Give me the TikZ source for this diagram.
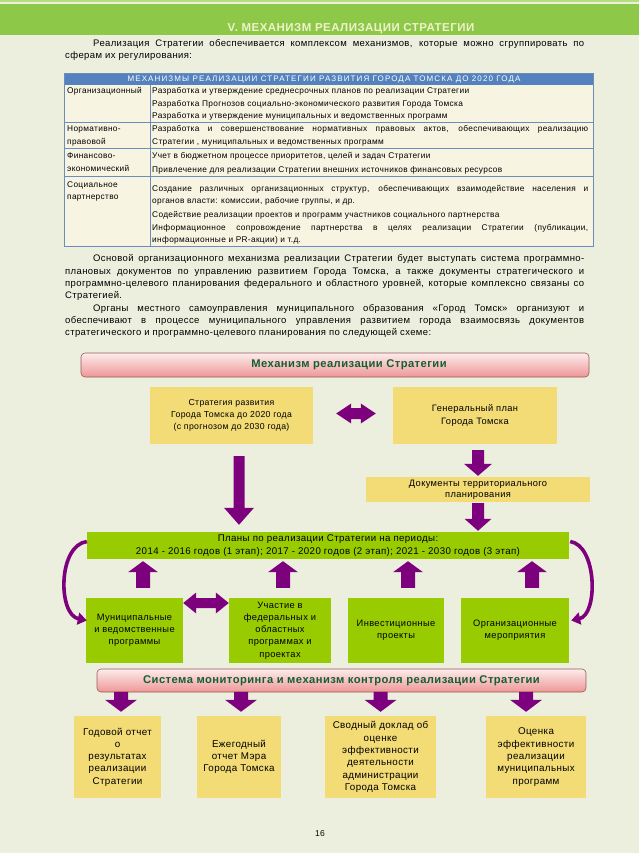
\documentclass[tikz,border=0pt]{standalone}
\usepackage{fontspec}
\setmainfont{Liberation Sans}[LetterSpace=4]
\usetikzlibrary{calc,arrows.meta}
\definecolor{pagebg}{RGB}{237,239,222}
\definecolor{bandgreen}{RGB}{142,200,72}
\definecolor{bandlight}{RGB}{178,222,125}
\definecolor{headtxt}{RGB}{238,242,205}
\definecolor{tblhead}{RGB}{84,130,190}
\definecolor{tblbody}{RGB}{247,244,225}
\definecolor{tblline}{RGB}{110,140,185}
\definecolor{boxyellow}{RGB}{243,219,118}
\definecolor{boxgreen}{RGB}{153,204,0}
\definecolor{arrowpurple}{RGB}{125,0,125}
\definecolor{pinkTop}{RGB}{253,236,236}
\definecolor{pinkMid}{RGB}{249,212,212}
\definecolor{pinkBot}{RGB}{238,150,150}
\definecolor{pinkborder}{RGB}{150,90,90}
\definecolor{titlegreen}{RGB}{20,95,50}
% block arrow: from, to, shaft half width, head half width, head length
\newcommand\blockarrow[5]{%
  \coordinate (bah) at ($(#2)!#5!(#1)$);
  \fill[arrowpurple] ($(#1)!#3!90:(#2)$) -- ($(bah)!#3!-90:(#1)$) -- ($(bah)!#4!-90:(#1)$) -- (#2)
    -- ($(bah)!#4!90:(#1)$) -- ($(bah)!#3!90:(#1)$) -- ($(#1)!#3!-90:(#2)$) -- cycle;}
% double block arrow
\newcommand\dblarrow[5]{%
  \coordinate (dha) at ($(#1)!#5!(#2)$);
  \coordinate (dhb) at ($(#2)!#5!(#1)$);
  \fill[arrowpurple] (#1) -- ($(dha)!#4!90:(#2)$) -- ($(dha)!#3!90:(#2)$) -- ($(dhb)!#3!-90:(#1)$)
    -- ($(dhb)!#4!-90:(#1)$) -- (#2) -- ($(dhb)!#4!90:(#1)$) -- ($(dhb)!#3!90:(#1)$)
    -- ($(dha)!#3!-90:(#2)$) -- ($(dha)!#4!-90:(#2)$) -- cycle;}
\begin{document}
\begin{tikzpicture}[x=1pt,y=-1pt,
  ptext/.style={anchor=base west,inner sep=0pt,font=\fontsize{9.5}{12}\selectfont},
  ttext/.style={anchor=base west,inner sep=0pt,font=\fontsize{8.3}{9}\selectfont},
  ybox/.style={fill=boxyellow,align=center,inner sep=1pt,font=\fontsize{9.3}{12.2}\selectfont},
  gbox/.style={fill=boxgreen,align=center,inner sep=1pt,font=\fontsize{9.3}{12.2}\selectfont},
  pinkbar/.style={draw=pinkborder,line width=0.6pt,rounded corners=4pt,top color=pinkTop,
    middle color=pinkMid,bottom color=pinkBot,text=titlegreen,
    font=\bfseries\fontsize{11.2}{13}\selectfont},
  curvearrow/.style={draw=arrowpurple,line width=3.6pt,-{Triangle[length=9pt,width=12pt]}}]
\useasboundingbox (0,0) rectangle (639,853);
\fill[pagebg] (0,0) rectangle (639,853);
\fill[bandgreen] (0,4) rectangle (639,35.5);
\fill[bandlight] (0,0) rectangle (639,2.5);
\node[anchor=base,inner sep=0pt,text=headtxt,font=\bfseries\fontsize{11.5}{13}\selectfont] (title) at (351,32) {\underline{V. МЕХАНИЗМ РЕАЛИЗАЦИИ СТРАТЕГИИ}};

% intro paragraph
\node[ptext] (p1a) at (93,46.5) {\hbox to 491pt{Реализация Стратегии обеспечивается комплексом механизмов, которые можно сгруппировать по}};
\node[ptext] (p1b) at (65,58.5) {сферам их регулирования:};

% table
\fill[tblbody] (64,85) rectangle (593,246);
\fill[tblhead] (64,73) rectangle (593,85);
\draw[tblline,line width=0.6pt] (64,122) -- (593,122) (64,148) -- (593,148) (64,176) -- (593,176) (150,85) -- (150,246);
\draw[tblline,line width=0.8pt] (64,73) rectangle (593,246);
\node[inner sep=0pt,text=white,font=\fontsize{8}{9}\selectfont\addfontfeature{LetterSpace=14}] (thead) at (324,79.5) {МЕХАНИЗМЫ РЕАЛИЗАЦИИ СТРАТЕГИИ РАЗВИТИЯ ГОРОДА ТОМСКА ДО 2020 ГОДА};
\node[ttext] (r1l) at (67,94) {Организационный};
\node[ttext] (r1a) at (152,94) {Разработка и утверждение среднесрочных планов по реализации Стратегии};
\node[ttext] (r1b) at (152,107) {Разработка Прогнозов социально-экономического развития Города Томска};
\node[ttext] (r1c) at (152,119) {Разработка и утверждение муниципальных и ведомственных программ};
\node[ttext] (r2l) at (67,132) {Нормативно-};
\node[ttext] (r2m) at (67,145) {правовой};
\node[ttext] (r2a) at (152,132) {\hbox to 436pt{Разработка и совершенствование нормативных правовых актов, обеспечивающих реализацию}};
\node[ttext] (r2b) at (152,145) {Стратегии , муниципальных и ведомственных программ};
\node[ttext] (r3l) at (67,158.5) {Финансово-};
\node[ttext] (r3m) at (67,171.5) {экономический};
\node[ttext] (r3a) at (152,159) {Учет в бюджетном процессе приоритетов, целей и задач Стратегии};
\node[ttext] (r3b) at (152,173) {Привлечение для реализации Стратегии внешних источников финансовых ресурсов};
\node[ttext] (r4l) at (67,187) {Социальное};
\node[ttext] (r4m) at (67,200) {партнерство};
\node[ttext] (r4a) at (152,191) {\hbox to 436pt{Создание различных организационных структур, обеспечивающих взаимодействие населения и}};
\node[ttext] (r4b) at (152,204) {органов власти: комиссии, рабочие группы, и др.};
\node[ttext] (r4c) at (152,217) {Содействие реализации проектов и программ участников социального партнерства};
\node[ttext] (r4d) at (152,230) {\hbox to 436pt{Информационное сопровождение партнерства в целях реализации Стратегии (публикации,}};
\node[ttext] (r4e) at (152,242.5) {информационные и PR-акции) и т.д.};

% second paragraph
\node[ptext] (p2a) at (93,261.5) {\hbox to 491pt{Основой организационного механизма реализации Стратегии будет выступать система программно-}};
\node[ptext] (p2b) at (65,274) {\hbox to 519pt{плановых документов по управлению развитием Города Томска, а также документы стратегического и}};
\node[ptext] (p2c) at (65,286.5) {\hbox to 519pt{программно-целевого планирования федерального и областного уровней, которые комплексно связаны со}};
\node[ptext] (p2d) at (65,298.5) {Стратегией.};
\node[ptext] (p2e) at (93,311) {\hbox to 491pt{Органы местного самоуправления муниципального образования «Город Томск» организуют и}};
\node[ptext] (p2f) at (65,323.5) {\hbox to 519pt{обеспечивают в процессе муниципального управления развитием города взаимосвязь документов}};
\node[ptext] (p2g) at (65,335.5) {стратегического и программно-целевого планирования по следующей схеме:};

% diagram
\node[pinkbar,minimum width=508,minimum height=24] (bar1) at (335,365) {\hspace*{28pt}Механизм реализации Стратегии};
\node[ybox,minimum width=163,minimum height=57,font=\fontsize{8.7}{12.2}\selectfont] (strat) at (231.5,415.5) {Стратегия развития\\Города Томска до 2020 года\\(с прогнозом до 2030 года)};
\node[ybox,minimum width=164,minimum height=57] (gen) at (475,415.5) {Генеральный план\\Города Томска};
\node[ybox,minimum width=224,minimum height=25,font=\fontsize{9.3}{11}\selectfont] (docs) at (478,489.5) {Документы территориального\\планирования};
\node[gbox,minimum width=482,minimum height=27,font=\fontsize{9.7}{12.5}\selectfont] (plans) at (328,545.5) {Планы по реализации Стратегии на периоды:\\2014 - 2016 годов (1 этап); 2017 - 2020 годов (2 этап); 2021 - 2030 годов (3 этап)};
\node[gbox,minimum width=97,minimum height=65] (muni) at (134.5,630.5) {Муниципальные\\и ведомственные\\программы};
\node[gbox,minimum width=102,minimum height=65] (part) at (280,630.5) {Участие в\\федеральных и\\областных\\программах и\\проектах};
\node[gbox,minimum width=96,minimum height=65] (inv) at (396,630.5) {Инвестиционные\\проекты};
\node[gbox,minimum width=108,minimum height=65] (org) at (515,630.5) {Организационные\\мероприятия};
\node[pinkbar,minimum width=489,minimum height=23] (bar2) at (341.5,680.5) {Система мониторинга и механизм контроля реализации Стратегии};
\node[ybox,minimum width=87,minimum height=82,font=\fontsize{9.8}{12.3}\selectfont] (rep1) at (117.5,757) {Годовой отчет\\о\\результатах\\реализации\\Стратегии};
\node[ybox,minimum width=84,minimum height=82,font=\fontsize{9.8}{12.3}\selectfont] (rep2) at (239,757) {Ежегодный\\отчет Мэра\\Города Томска};
\node[ybox,minimum width=111,minimum height=82,font=\fontsize{9.8}{12.3}\selectfont] (rep3) at (380.5,757) {Сводный доклад об\\оценке\\эффективности\\деятельности\\администрации\\Города Томска};
\node[ybox,minimum width=100,minimum height=82,font=\fontsize{9.8}{12.3}\selectfont] (rep4) at (536,757) {Оценка\\эффективности\\реализации\\муниципальных\\программ};
\node[inner sep=0pt,font=\fontsize{8.5}{10}\selectfont] (pnum) at (320,834) {16};

% connectors (block arrows)
\coordinate (d1a) at ($(strat.east)+(23,-2)$);
\coordinate (d1b) at ($(gen.west)+(-17,-2)$);
\dblarrow{d1a}{d1b}{5.5pt}{10pt}{15pt}
\coordinate (g1a) at ($(gen.south)+(3,6)$);
\coordinate (g1b) at ($(docs.north)+(0,-1)$);
\blockarrow{g1a}{g1b}{6pt}{14pt}{12pt}
\coordinate (la) at ($(strat.south)+(7.5,12)$);
\coordinate (lb) at ($(la |- plans.north)+(0,-7)$);
\blockarrow{la}{lb}{5.5pt}{15pt}{17pt}
\coordinate (g2a) at ($(docs.south)+(0,1)$);
\coordinate (g2b) at ($(docs.south |- plans.north)+(0,-1)$);
\blockarrow{g2a}{g2b}{6pt}{13.5pt}{12pt}
\coordinate (u1a) at ($(muni.north)+(8.5,-10)$);
\coordinate (u1b) at ($(u1a |- plans.south)+(0,2)$);
\blockarrow{u1a}{u1b}{7pt}{15pt}{11pt}
\coordinate (u2a) at ($(part.north)+(3,-10)$);
\coordinate (u2b) at ($(u2a |- plans.south)+(0,2)$);
\blockarrow{u2a}{u2b}{7pt}{15pt}{11pt}
\coordinate (u3a) at ($(inv.north)+(12,-10)$);
\coordinate (u3b) at ($(u3a |- plans.south)+(0,2)$);
\blockarrow{u3a}{u3b}{7pt}{15pt}{11pt}
\coordinate (u4a) at ($(org.north)+(17,-10)$);
\coordinate (u4b) at ($(u4a |- plans.south)+(0,2)$);
\blockarrow{u4a}{u4b}{7pt}{15pt}{11pt}
\coordinate (d2a) at ($(muni.east)+(0,-27.5)$);
\coordinate (d2b) at ($(part.west)+(0,-27.5)$);
\dblarrow{d2a}{d2b}{5pt}{10.5pt}{13pt}
\coordinate (m1a) at ($(rep1.north)+(3.5,-24)$);
\coordinate (m1b) at ($(rep1.north)+(3.5,-4)$);
\blockarrow{m1a}{m1b}{7pt}{16pt}{12pt}
\coordinate (m2a) at ($(rep2.north)+(2,-24)$);
\coordinate (m2b) at ($(rep2.north)+(2,-4)$);
\blockarrow{m2a}{m2b}{7pt}{16pt}{12pt}
\coordinate (m3a) at ($(rep3.north)+(0,-24)$);
\coordinate (m3b) at ($(rep3.north)+(0,-4)$);
\blockarrow{m3a}{m3b}{7pt}{16pt}{12pt}
\coordinate (m4a) at ($(rep4.north)+(-10,-24)$);
\coordinate (m4b) at ($(rep4.north)+(-10,-4)$);
\blockarrow{m4a}{m4b}{7pt}{16pt}{12pt}
% curved arrows
\coordinate (cl1) at ($(plans.west)+(0,-4)$);
\coordinate (cl2) at ($(muni.west)+(1,-10)$);
\draw[curvearrow] (cl1) .. controls +(-29,4) and +(-29,-6) .. (cl2);
\coordinate (cr1) at ($(plans.east)+(1,-4)$);
\coordinate (cr2) at ($(org.east)+(2,-10)$);
\draw[curvearrow] (cr1) .. controls +(27,4) and +(27,-6) .. (cr2);
\end{tikzpicture}
\end{document}
